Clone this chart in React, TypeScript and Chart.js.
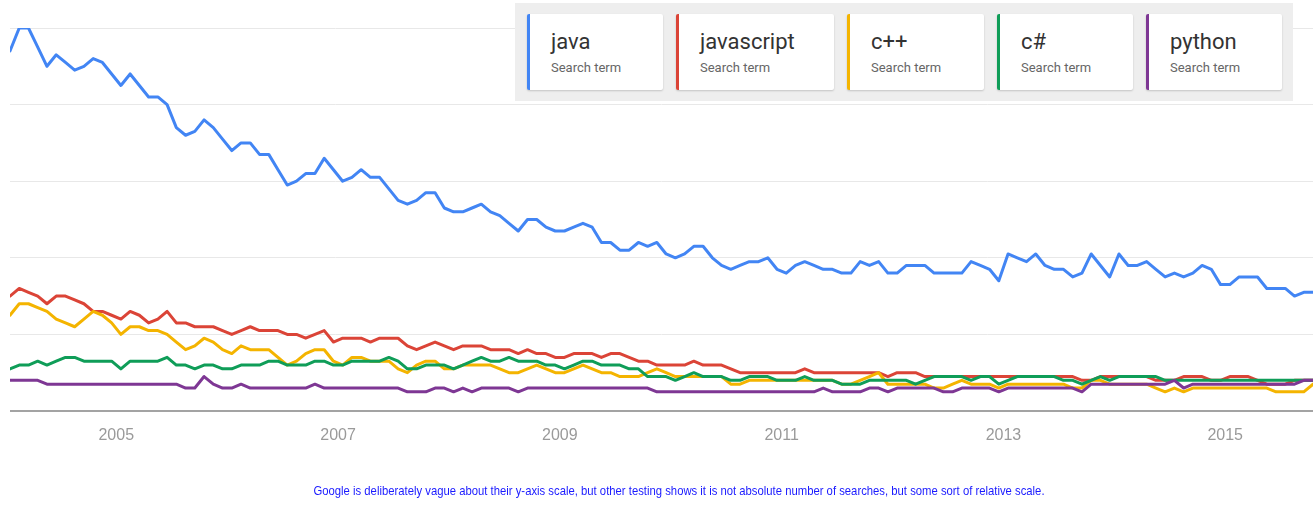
import React, { useEffect, useRef } from "react";
import { Chart, registerables } from "chart.js";
Chart.register(...registerables);

const terms = ["java", "javascript", "c++", "c#", "python"];
const colors = ["#4285f4", "#db4437", "#f4b400", "#0f9d58", "#7e3794"];
const startYear = 2004;
const monthCount = 142;
const months: string[] = Array.from(
  { length: monthCount },
  (_, i) => `${startYear + Math.floor(i / 12)}-${String((i % 12) + 1).padStart(2, "0")}`
);
const yearTicks = ["2005", "2007", "2009", "2011", "2013", "2015"];
const yTicks = [0, 20, 40, 60, 80, 100];
const footnote =
  "Google is deliberately vague about their y-axis scale, but other testing shows it is not absolute number of searches, but some sort of relative scale.";

const java = [
  94, 100, 100, 95, 90, 93, 91, 89, 90, 92,
  91, 88, 85, 88, 85, 82, 82, 80, 74, 72,
  73, 76, 74, 71, 68, 70, 70, 67, 67, 63,
  59, 60, 62, 62, 66, 63, 60, 61, 63, 61,
  61, 58, 55, 54, 55, 57, 57, 53, 52, 52,
  53, 54, 52, 51, 49, 47, 50, 50, 48, 47,
  47, 48, 49, 48, 44, 44, 42, 42, 44, 43,
  44, 41, 40, 41, 43, 43, 40, 38, 37, 38,
  39, 39, 40, 37, 36, 38, 39, 38, 37, 37,
  36, 36, 39, 38, 39, 36, 36, 38, 38, 38,
  36, 36, 36, 36, 39, 38, 37, 34, 41, 40,
  39, 41, 38, 37, 37, 35, 36, 41, 38, 35,
  41, 38, 38, 39, 37, 35, 36, 35, 36, 38,
  37, 33, 33, 35, 35, 35, 32, 32, 32, 30,
  31, 31,
];
const javascript = [
  30, 32, 31, 30, 28, 30, 30, 29, 28, 26,
  26, 25, 24, 26, 25, 23, 24, 26, 23, 23,
  22, 22, 22, 21, 20, 21, 22, 21, 21, 21,
  20, 20, 19, 20, 21, 18, 19, 19, 19, 18,
  19, 19, 19, 17, 16, 17, 18, 17, 16, 17,
  17, 17, 16, 16, 16, 15, 16, 15, 15, 14,
  14, 15, 15, 15, 14, 15, 15, 14, 13, 13,
  12, 12, 12, 12, 13, 12, 12, 12, 11, 10,
  10, 10, 10, 10, 10, 10, 11, 10, 10, 10,
  10, 10, 10, 10, 10, 9, 10, 10, 10, 9,
  9, 9, 9, 9, 9, 9, 9, 9, 9, 9,
  9, 9, 9, 9, 9, 9, 8, 8, 9, 9,
  9, 9, 9, 9, 8, 8, 8, 9, 9, 9,
  8, 8, 9, 9, 9, 8, 7, 7, 7, 8,
  8, 8,
];
const cpp = [
  25, 28, 28, 27, 26, 24, 23, 22, 24, 26,
  25, 23, 20, 22, 22, 21, 21, 20, 18, 16,
  17, 19, 18, 16, 15, 17, 16, 16, 16, 14,
  12, 13, 15, 16, 16, 13, 12, 14, 14, 13,
  13, 13, 11, 10, 12, 13, 13, 11, 11, 12,
  12, 12, 12, 11, 10, 10, 11, 12, 11, 10,
  10, 11, 12, 11, 10, 10, 9, 9, 9, 10,
  11, 10, 9, 9, 9, 9, 9, 9, 7, 7,
  8, 8, 8, 8, 8, 8, 8, 8, 8, 8,
  7, 7, 8, 9, 10, 7, 7, 7, 7, 7,
  6, 6, 7, 8, 7, 7, 7, 6, 7, 7,
  7, 7, 7, 7, 7, 6, 6, 8, 8, 7,
  7, 7, 7, 7, 6, 5, 6, 5, 6, 6,
  6, 6, 6, 6, 6, 6, 6, 5, 5, 5,
  5, 7,
];
const csharp = [
  11, 12, 12, 13, 12, 13, 14, 14, 13, 13,
  13, 13, 11, 13, 13, 13, 13, 14, 12, 12,
  11, 12, 12, 11, 11, 12, 12, 12, 13, 13,
  12, 12, 12, 13, 13, 12, 12, 13, 13, 13,
  13, 14, 13, 11, 11, 12, 12, 12, 11, 12,
  13, 14, 13, 13, 14, 13, 13, 13, 12, 12,
  11, 12, 13, 13, 12, 12, 12, 11, 11, 9,
  9, 9, 8, 9, 10, 9, 9, 9, 8, 8,
  9, 9, 9, 8, 8, 8, 9, 8, 8, 8,
  7, 7, 7, 8, 8, 8, 8, 8, 7, 8,
  9, 9, 9, 9, 8, 9, 9, 7, 8, 9,
  9, 9, 9, 9, 8, 8, 7, 8, 9, 8,
  9, 9, 9, 9, 9, 8, 8, 8, 8, 8,
  8, 8, 8, 8, 8, 8, 8, 8, 8, 8,
  8, 8,
];
const python = [
  8, 8, 8, 8, 7, 7, 7, 7, 7, 7,
  7, 7, 7, 7, 7, 7, 7, 7, 7, 6,
  6, 9, 7, 6, 6, 7, 6, 6, 6, 6,
  6, 6, 6, 7, 6, 6, 6, 6, 6, 6,
  6, 6, 6, 5, 5, 5, 6, 6, 5, 6,
  5, 6, 6, 6, 6, 5, 6, 6, 6, 6,
  6, 6, 6, 6, 6, 6, 6, 6, 6, 6,
  5, 5, 5, 5, 5, 5, 5, 5, 5, 5,
  5, 5, 5, 5, 5, 5, 5, 5, 6, 5,
  5, 5, 5, 6, 6, 5, 6, 6, 6, 6,
  6, 5, 5, 6, 6, 6, 6, 5, 6, 6,
  6, 6, 6, 6, 6, 6, 5, 7, 7, 7,
  7, 7, 7, 7, 7, 7, 8, 6, 7, 7,
  7, 7, 7, 7, 7, 7, 7, 7, 7, 7,
  8, 8,
];
const series = [java, javascript, cpp, csharp, python];

const cards = [
  { left: 527, width: 136 },
  { left: 676, width: 158 },
  { left: 847, width: 137 },
  { left: 997, width: 136 },
  { left: 1146, width: 136 },
];

export default function App() {
  const ref = useRef<HTMLCanvasElement | null>(null);
  useEffect(() => {
    if (!ref.current) return;
    const chart = new Chart(ref.current, {
      type: "line",
      data: {
        datasets: terms.map((t, k) => ({
          label: t,
          data: series[k].map((v, i) => ({ x: i, y: v })),
          borderColor: colors[k],
          backgroundColor: colors[k],
          borderWidth: 3,
          pointRadius: 0,
          tension: 0,
          fill: false,
          borderJoinStyle: "round" as const,
          borderCapStyle: "round" as const,
          order: terms.length - k,
        })),
      },
      options: {
        animation: false,
        responsive: false,
        maintainAspectRatio: false,
        layout: { padding: { left: 10, right: 2, top: 28, bottom: 0 } },
        plugins: { legend: { display: false }, tooltip: { enabled: false } },
        scales: {
          x: {
            type: "linear",
            min: 0,
            max: monthCount - 1,
            grid: { display: false, drawTicks: false },
            border: { display: false },
            afterBuildTicks: (scale: any) => {
              scale.ticks = yearTicks.map((y) => ({ value: months.indexOf(`${y}-01`) - 0.5 }));
            },
            afterFit: (scale: any) => {
              scale.height = 103;
            },
            ticks: {
              autoSkip: false,
              maxRotation: 0,
              padding: 15,
              color: "#9a9a9a",
              font: { family: "'Liberation Sans', Arial, sans-serif", size: 16 },
              callback: (_v: any, i: number) => yearTicks[i],
            },
          },
          y: {
            min: 0,
            max: 100,
            afterBuildTicks: (scale: any) => {
              scale.ticks = yTicks.map((v) => ({ value: v }));
            },
            afterFit: (scale: any) => {
              scale.width = 0;
            },
            ticks: { display: false },
            border: { display: false },
            grid: {
              drawTicks: false,
              color: (c: any) => (c.tick && c.tick.value === 0 ? "#a3a3a3" : "#e8e8e8"),
              lineWidth: (c: any) => (c.tick && c.tick.value === 0 ? 2 : 1),
            },
          },
        },
      },
    });
    return () => chart.destroy();
  }, []);

  return (
    <div style={{ position: "fixed", left: 0, top: 0, width: 1315, height: 514, background: "#fff", overflow: "hidden" }}>
      <canvas ref={ref} width={1315} height={514} style={{ position: "absolute", left: 0, top: 0 }} />
      <div
        style={{
          position: "absolute",
          left: 515,
          top: 3,
          width: 778,
          height: 98,
          background: "#eeeeee",
        }}
      />
      {terms.map((t, k) => (
        <div
          key={t}
          style={{
            position: "absolute",
            left: cards[k].left,
            top: 14,
            width: cards[k].width,
            height: 76,
            background: "#fff",
            borderLeft: `3px solid ${colors[k]}`,
            borderRadius: 2,
            boxShadow: "0 1px 2px rgba(0,0,0,0.18)",
            boxSizing: "border-box",
            fontFamily: "Roboto, 'Noto Sans', sans-serif",
          }}
        >
          <div style={{ position: "absolute", left: 21, top: 15, fontSize: 22, color: "#333", lineHeight: "26px", whiteSpace: "nowrap" }}>{t}</div>
          <div style={{ position: "absolute", left: 21, top: 46, fontSize: 13, color: "#666", lineHeight: "16px", whiteSpace: "nowrap" }}>
            Search term
          </div>
        </div>
      ))}
      <div
        style={{
          position: "absolute",
          left: 0,
          width: 1358,
          top: 482,
          textAlign: "center",
          fontFamily: "'Liberation Sans', Arial, sans-serif",
          fontSize: 13.5,
          lineHeight: "18px",
          color: "#1a1aff",
          whiteSpace: "nowrap",
          transform: "scaleX(0.837)",
          transformOrigin: "679px 50%",
        }}
      >
        {footnote}
      </div>
    </div>
  );
}
